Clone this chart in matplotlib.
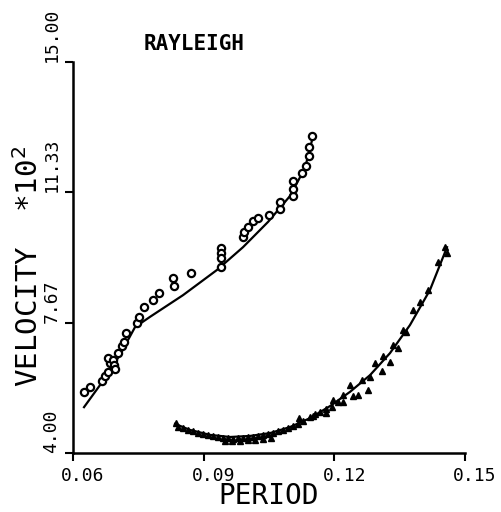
import matplotlib
matplotlib.use("Agg")
import matplotlib.pyplot as plt
import matplotlib.transforms as mtransforms

# ---- data ----
circ_x = [0.06253, 0.06390, 0.06666, 0.06735, 0.06804, 0.06850, 0.06804, 0.06918, 0.06941, 0.06964,
          0.07033, 0.07125, 0.07171, 0.07217, 0.07469, 0.07515, 0.07630, 0.07837, 0.07975, 0.08296,
          0.08319, 0.08709, 0.09398, 0.09398, 0.09398, 0.09398, 0.09903, 0.09926, 0.10018, 0.10133,
          0.10248, 0.10500, 0.10753, 0.10753, 0.11051, 0.11051, 0.11051, 0.11258, 0.11350, 0.11419,
          0.11419, 0.11488]
circ_y = [5.72, 5.86, 6.03, 6.17, 6.28, 6.53, 6.67, 6.62, 6.48, 6.36,
          6.81, 7.01, 7.12, 7.38, 7.66, 7.83, 8.11, 8.30, 8.50, 8.92,
          8.70, 9.06, 9.77, 9.63, 9.49, 9.23, 10.08, 10.22, 10.36, 10.53,
          10.61, 10.69, 10.86, 11.06, 11.23, 11.43, 11.65, 11.88, 12.07, 12.35,
          12.61, 12.92]

circ_fit_x = [0.06253, 0.06620, 0.07079, 0.07423, 0.07768, 0.08525, 0.09306, 0.09903,
              0.10477, 0.10982, 0.11327, 0.11488]
circ_fit_y = [5.29, 5.91, 6.76, 7.54, 7.83, 8.44, 9.15, 9.79, 10.50, 11.23, 12.02, 12.80]

tri_x = [0.08365, 0.08411, 0.08526, 0.08640, 0.08755, 0.08870, 0.08985, 0.09100, 0.09214, 0.09329,
         0.09444, 0.09559, 0.09674, 0.09788, 0.09903, 0.10018, 0.10133, 0.10248, 0.10362, 0.10477,
         0.10592, 0.10707, 0.10822, 0.10937, 0.11051, 0.11166, 0.11281, 0.11441, 0.11556, 0.11671,
         0.11809, 0.11947, 0.11970, 0.12085, 0.12199, 0.12199, 0.12360, 0.12429, 0.12544, 0.12636,
         0.12773, 0.12819, 0.12934, 0.13094, 0.13117, 0.13278, 0.13347, 0.13462, 0.13577, 0.13646,
         0.13806, 0.13967, 0.14151, 0.14381, 0.14541, 0.14587,
         0.09490, 0.09650, 0.09830, 0.10020, 0.10180, 0.10360, 0.10550, 0.11200, 0.11500, 0.11800]
tri_y = [4.84, 4.73, 4.70, 4.65, 4.62, 4.56, 4.53, 4.51, 4.48, 4.45,
         4.42, 4.42, 4.39, 4.42, 4.42, 4.45, 4.45, 4.48, 4.51, 4.53,
         4.56, 4.62, 4.65, 4.70, 4.76, 4.82, 4.90, 5.01, 5.10, 5.15,
         5.24, 5.29, 5.49, 5.43, 5.43, 5.63, 5.91, 5.60, 5.63, 6.05,
         5.77, 6.14, 6.53, 6.31, 6.73, 6.56, 7.04, 6.95, 7.46, 7.40,
         8.02, 8.25, 8.59, 9.37, 9.79, 9.63,
         4.34, 4.34, 4.34, 4.37, 4.37, 4.39, 4.42, 4.98, 5.05, 5.12]

tri_fit_x = [0.08342, 0.08686, 0.09145, 0.09605, 0.10064, 0.10523, 0.10982, 0.11441,
             0.11901, 0.12360, 0.12819, 0.13278, 0.13737, 0.14197, 0.14587]
tri_fit_y = [4.82, 4.65, 4.51, 4.45, 4.48, 4.56, 4.73, 4.98, 5.32, 5.72, 6.19, 6.81,
             7.60, 8.59, 9.79]

x_ticks = [0.06, 0.09, 0.12, 0.15]
x_ticklabels = ["0.06", "0.09", "0.12", "0.15"]
y_ticks = [4.00, 7.67, 11.33, 15.00]
y_ticklabels = ["4.00", "7.67", "11.33", "15.00"]

# ---- figure ----
W, H = 501, 512
fig = plt.figure(figsize=(W / 100, H / 100), dpi=100)
ax = fig.add_axes([73 / W, 1 - 453 / H, (465 - 73) / W, (453 - 62) / H])

font = "DejaVu Sans Mono"

ax.plot(circ_fit_x, circ_fit_y, color="black", lw=1.6, zorder=2)
ax.plot(tri_fit_x, tri_fit_y, color="black", lw=1.6, zorder=2)
ax.plot(circ_x, circ_y, linestyle="none", marker="o", ms=5.2, mfc="white",
        mec="black", mew=1.6, zorder=3)
ax.plot(tri_x, tri_y, linestyle="none", marker="^", ms=5.0, mfc="black",
        mec="black", mew=1.0, zorder=3)

ax.set_xlim(0.06, 0.15)
ax.set_ylim(4.0, 15.0)

for s in ["top", "right"]:
    ax.spines[s].set_visible(False)
for s in ["left", "bottom"]:
    ax.spines[s].set_linewidth(1.8)

ax.set_xticks(x_ticks)
ax.set_xticklabels(x_ticklabels, fontfamily=font, fontsize=13)
ax.set_yticks(y_ticks)
ax.set_yticklabels(y_ticklabels, fontfamily=font, fontsize=13, rotation=90, va="bottom")
ax.tick_params(axis="both", direction="out", length=6, width=1.5, color="black")
ax.tick_params(axis="x", pad=4)
ax.tick_params(axis="y", pad=3)

# shift x tick labels slightly right, as in the reference
offset = mtransforms.ScaledTranslation(10 / 100, 0, fig.dpi_scale_trans)
for lab in ax.get_xticklabels():
    lab.set_transform(lab.get_transform() + offset)

ax.set_xlabel("PERIOD", fontfamily=font, fontsize=20)
ax.xaxis.set_label_coords(0.5, -0.075)
ax.set_ylabel("VELOCITY  *10$^2$", fontfamily=font, fontsize=21)
ax.yaxis.set_label_coords(-0.074, 0.476)

ax.text(0.179, 1.031, "RAYLEIGH", transform=ax.transAxes, fontfamily=font,
        fontsize=15, fontweight="bold", va="baseline", ha="left")

fig.savefig("out.png", dpi=100)
